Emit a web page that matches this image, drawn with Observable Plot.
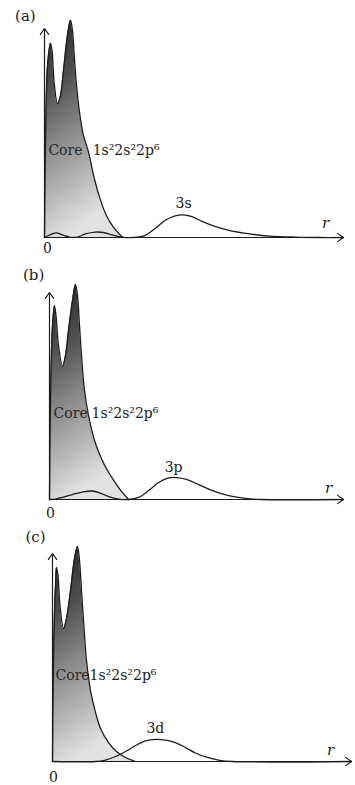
<!DOCTYPE html>
<html><head><meta charset="utf-8">
<script src="https://cdn.jsdelivr.net/npm/d3@7"></script>
<script src="https://cdn.jsdelivr.net/npm/@observablehq/plot@0.6"></script>
<style>
body{margin:0;background:#fff;width:355px;}
#chart svg{display:block;}
</style></head><body><div id="chart"></div>
<script>
// ---- text ----
const panelLetters = ["(a)", "(b)", "(c)"];
const valenceLabels = ["3s", "3p", "3d"];
const coreWord = "Core";
const coreConfig = "1s\u00B22s\u00B22p\u2076";
const axisName = "r";
const originTick = "0";

// ---- data: radial distribution (arbitrary units, r 0..100, P 0..100) ----
// panel (a): core 1s2 2s2 2p6
const coreA_r = [0, 0.17, 0.5, 1.0, 2.0, 2.5, 3.3, 4.35, 5.35, 6.35, 7.7, 8.7, 9.36, 10.0, 10.7, 11.7, 13.0, 14.7, 16.7, 18.7, 20.7, 23.1, 26.1];
const coreA_p = [0, 27, 61, 82, 93, 89.5, 73, 64, 68, 80, 97, 104, 99, 86, 73, 60, 49, 41, 28, 18, 10.5, 4.8, 0];
// panel (a): 3s
const s3_r = [0, 2, 4, 6, 8.7, 11, 13.7, 17, 19.7, 22.7, 26, 29.7, 33.7, 37, 40.3, 43.7, 46.3, 49.3, 52.7, 57, 62, 68.7, 75.3, 83.7, 92, 100];
const s3_p = [0, 1.4, 2.2, 1.2, 0.1, 0.2, 1.7, 2.6, 2.4, 1.2, 0.2, 0, 1, 4.3, 8.1, 10.3, 10.8, 10, 7.7, 5.3, 3.3, 1.7, 0.7, 0.2, 0, 0];

// panel (b): core
const coreB_r = [0, 0.17, 0.51, 1.02, 1.7, 2.21, 3.06, 4.42, 5.44, 6.46, 7.82, 8.84, 9.52, 10.2, 10.88, 11.9, 13.27, 15.31, 17.35, 19.73, 22.11, 24.49, 26.87];
const coreB_p = [0, 28.5, 62.3, 84.1, 93.7, 88.9, 74.4, 64.3, 69.6, 81.6, 96.1, 103.9, 98.6, 84.1, 69.6, 52.7, 40.6, 28.5, 20.8, 14, 8.7, 3.9, 0];
// panel (b): 3p
const p3_r = [0, 2, 4.4, 7.8, 11.2, 14.6, 17.3, 20.1, 23.5, 26.9, 30.3, 33.7, 37.1, 40.5, 43.2, 46.6, 50.7, 55.4, 60.9, 66.7, 71.8, 100];
const p3_p = [0, 0.2, 1.0, 2.4, 3.6, 4.1, 3.1, 1.4, 0.2, 0, 1.0, 4.3, 8.2, 10.4, 10.6, 9.7, 7.2, 4.3, 1.9, 0.5, 0, 0];

// panel (c): core
const coreC_r = [0, 0.17, 0.5, 1.0, 1.34, 1.84, 2.5, 3.68, 4.68, 6.02, 7.36, 8.36, 9.03, 9.7, 10.37, 11.37, 12.71, 14.38, 16.05, 18.73, 21.4, 24.4, 27.76];
const coreC_p = [0, 29.3, 63, 84.6, 93.3, 89.4, 75, 63.9, 68.8, 82.2, 97.6, 103.4, 96.6, 82.2, 67.8, 48.6, 34.1, 23.6, 15.9, 9.1, 4.8, 1.9, 0];
// panel (c): 3d
const d3_r = [0, 14.4, 17.7, 21.1, 24.4, 27.8, 31.1, 34.4, 37.8, 41.1, 44.5, 47.8, 51.2, 55.5, 60.2, 100];
const d3_p = [0, 0, 0.7, 2.4, 4.8, 7.7, 9.9, 10.6, 10.3, 9.1, 6.7, 4.1, 2.2, 0.7, 0, 0];

// axis extent (data units)
const axisMax = [100, 100];

// ---- layout (pixels / label anchors) ----
const layout = [
  {h: 260, mt: 28, mb: 23, ml: 44, mr: 12, letter: [-6.4, 105.7], zero: [1.0, -5.3], r: [94.0, 6.7], val: [46.5, 16.3], core: [1.3, 41.6], cfg: [16.1, 41.6]},
  {h: 260, mt: 32, mb: 21, ml: 49, mr: 12, letter: [-5.4, 108.2], zero: [0.3, -6.8], r: [94.9, 5.3], val: [42.2, 15.5], core: [1.4, 41.5], cfg: [14.3, 41.5]},
  {h: 265, mt: 33, mb: 24, ml: 52, mr: 4, letter: [-5.7, 107.7], zero: [0.3, -7.7], r: [93.0, 5.3], val: [34.4, 15.9], core: [1.0, 41.3], cfg: [12.4, 41.3]}
];

const cores = [[coreA_r, coreA_p], [coreB_r, coreB_p], [coreC_r, coreC_p]];
const valence = [[s3_r, s3_p], [p3_r, p3_p], [d3_r, d3_p]];
const rows = ([rs, ps]) => rs.map((r, i) => ({r, p: ps[i]}));

const font = "DejaVu Serif";
const ink = "#1c1c1c";

panelLetters.forEach((letter, i) => {
  const L = layout[i];
  const gid = "coreGrad" + i;
  const core = rows(cores[i]);
  const val = rows(valence[i]);
  const svg = Plot.plot({
    width: 355, height: L.h,
    marginTop: L.mt, marginBottom: L.mb, marginLeft: L.ml, marginRight: L.mr,
    x: {domain: [0, axisMax[0]], axis: null},
    y: {domain: [0, axisMax[1]], axis: null},
    style: {fontFamily: font, background: "#fff", color: ink, overflow: "visible"},
    marks: [
      Plot.areaY(core, {x: "r", y: "p", curve: "catmull-rom", fill: `url(#${gid})`}),
      Plot.text([coreWord], {x: L.core[0], y: L.core[1], text: d => d, textAnchor: "start", fontSize: 14, fill: "#2a2a2a"}),
      Plot.lineY(core, {x: "r", y: "p", curve: "catmull-rom", stroke: ink, strokeWidth: 1.3}),
      Plot.lineY(val, {x: "r", y: "p", curve: "catmull-rom", stroke: ink, strokeWidth: 1.3}),
      Plot.arrow([0], {x1: 0, y1: 0, x2: axisMax[0], y2: 0, stroke: ink, strokeWidth: 1.2, headLength: 9, headAngle: 70}),
      Plot.arrow([0], {x1: 0, y1: 0, x2: 0, y2: axisMax[1], stroke: ink, strokeWidth: 1.2, headLength: 9, headAngle: 70}),
      Plot.text([coreConfig], {x: L.cfg[0], y: L.cfg[1], text: d => d, textAnchor: "start", fontSize: 14, fill: ink}),
      Plot.text([valenceLabels[i]], {x: L.val[0], y: L.val[1], text: d => d, fontSize: 14, fill: ink}),
      Plot.text([axisName], {x: L.r[0], y: L.r[1], text: d => d, fontSize: 15, fontStyle: "italic", fill: ink}),
      Plot.text([originTick], {x: L.zero[0], y: L.zero[1], text: d => d, fontSize: 14, fill: ink}),
      Plot.text([letter], {x: L.letter[0], y: L.letter[1], text: d => d, fontSize: 15, fill: ink})
    ]
  });
  const g = d3.select(svg).insert("defs", ":first-child")
    .append("linearGradient").attr("id", gid)
    .attr("x1", 0).attr("y1", 0).attr("x2", 0.25).attr("y2", 1);
  [[0, "#252525"], [0.3, "#4e4e4e"], [0.55, "#858585"], [0.8, "#b8b8b8"], [1, "#e2e2e2"]]
    .forEach(([o, c]) => g.append("stop").attr("offset", o).attr("stop-color", c));
  document.getElementById("chart").appendChild(svg);
});
</script></body></html>
